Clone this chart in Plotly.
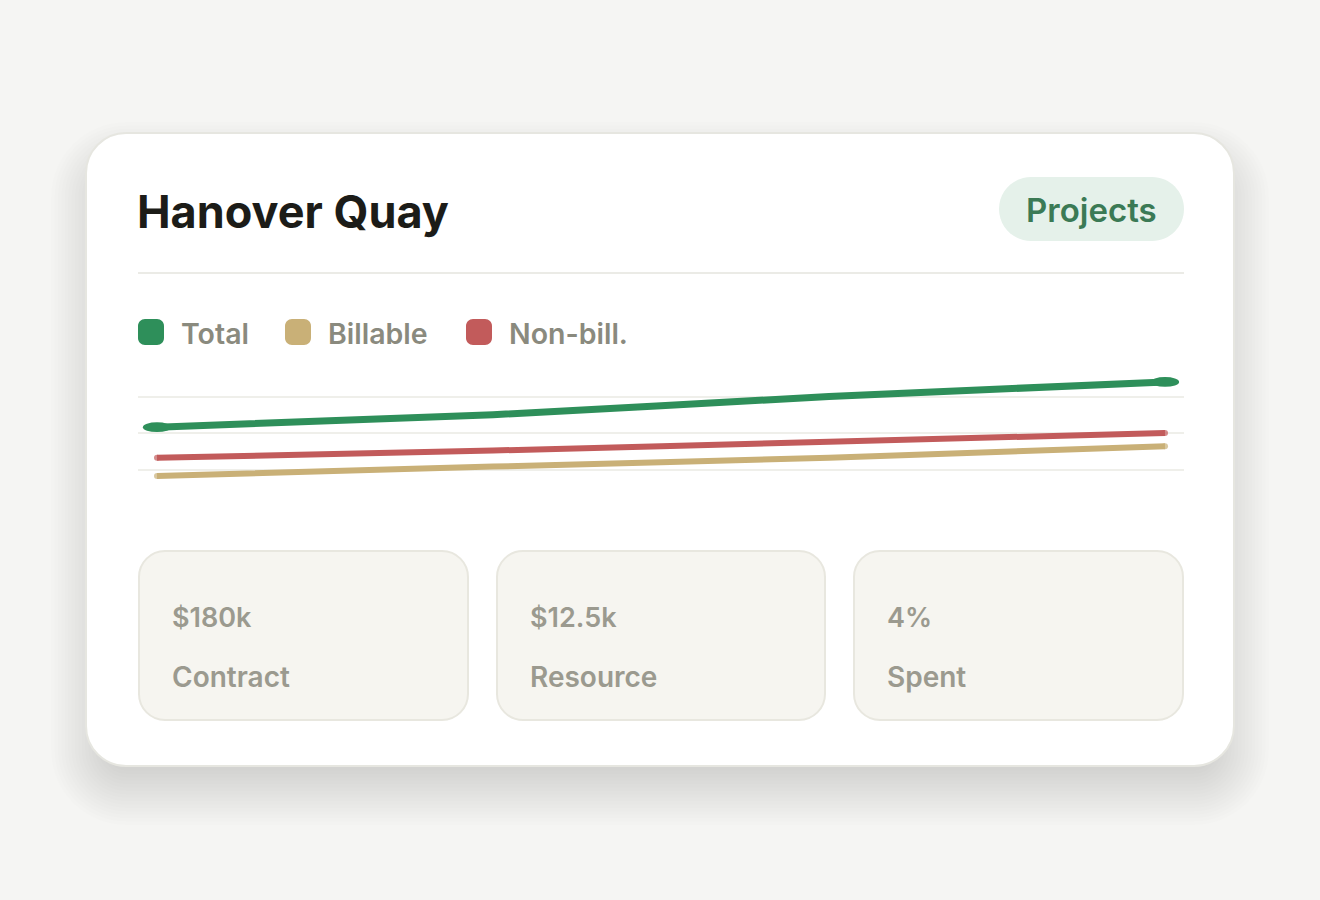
import plotly.graph_objects as go

# ---- data ----
periods = ["P1", "P2", "P3", "P4"]
total = [108, 125, 150, 170]
billable = [41, 54, 66, 82]
nonbill = [66, 76, 88, 100]
series_names = ["Total", "Billable", "Non-bill."]
series_colors = ["#2e8f5a", "#c9b077", "#c25b5b"]
grid_vals = [50, 100, 150]
stat_values = ["$180k", "$12.5k", "4%"]
stat_labels = ["Contract", "Resource", "Spent"]
title_text = "Hanover Quay"
badge_text = "Projects"

W, H = 1320, 900
FONT = "Inter"


def px(x):
    return x / W


def py(y):
    return 1 - y / H


def rr_path(x0, y0, x1, y1, r):
    k = 0.5523 * r
    P = lambda x, y: f"{px(x):.6f},{py(y):.6f}"
    return (
        f"M{P(x0 + r, y0)} L{P(x1 - r, y0)} "
        f"C{P(x1 - r + k, y0)} {P(x1, y0 + r - k)} {P(x1, y0 + r)} "
        f"L{P(x1, y1 - r)} "
        f"C{P(x1, y1 - r + k)} {P(x1 - r + k, y1)} {P(x1 - r, y1)} "
        f"L{P(x0 + r, y1)} "
        f"C{P(x0 + r - k, y1)} {P(x0, y1 - r + k)} {P(x0, y1 - r)} "
        f"L{P(x0, y0 + r)} "
        f"C{P(x0, y0 + r - k)} {P(x0 + r - k, y0)} {P(x0 + r, y0)} Z"
    )


shapes = []
annotations = []

# soft shadow: stacked translucent layers approximating a blur
CX0, CY0, CX1, CY1 = 86, 133, 1234, 766
n_layers = 26
for i in range(n_layers):
    e = -50 + i * (85 / (n_layers - 1))
    shapes.append(dict(type="path", xref="paper", yref="paper", layer="below",
                       path=rr_path(CX0 - e, CY0 + 24 - e, CX1 + e, CY1 + 24 + e, max(40 + e, 6)),
                       fillcolor="rgba(60,60,50,0.0065)", line=dict(width=0)))
# card
shapes.append(dict(type="path", xref="paper", yref="paper", layer="below",
                   path=rr_path(CX0, CY0, CX1, CY1, 40),
                   fillcolor="#ffffff", line=dict(color="#e6e6e0", width=2)))
# separator
shapes.append(dict(type="line", xref="paper", yref="paper", layer="below",
                   x0=px(138), x1=px(1184), y0=py(273), y1=py(273),
                   line=dict(color="#ebebe6", width=2)))
# badge
shapes.append(dict(type="path", xref="paper", yref="paper", layer="below",
                   path=rr_path(999, 177, 1184, 241, 32),
                   fillcolor="#e5f1ea", line=dict(width=0)))
annotations.append(dict(xref="paper", yref="paper", x=px(1091.5), y=py(210),
                        xanchor="center", yanchor="middle", showarrow=False,
                        text=badge_text,
                        font=dict(family=FONT, size=33, color="#3b7a55", weight=600)))
# title
annotations.append(dict(xref="paper", yref="paper", x=px(135), y=py(211),
                        xanchor="left", yanchor="middle", showarrow=False,
                        text=title_text,
                        font=dict(family=FONT, size=45, color="#1c1c18", weight=700)))

# legend
leg_x = [138, 285, 466]
for name, col, lx in zip(series_names, series_colors, leg_x):
    shapes.append(dict(type="path", xref="paper", yref="paper", layer="below",
                       path=rr_path(lx, 319, lx + 26, 345, 7),
                       fillcolor=col, line=dict(width=0)))
    annotations.append(dict(xref="paper", yref="paper", x=px(lx + 41), y=py(333),
                            xanchor="left", yanchor="middle", showarrow=False,
                            text=name,
                            font=dict(family=FONT, size=28.5, color="#8a8a7e", weight=600)))

# stat boxes
box_x = [(139, 468), (497, 825), (854, 1183)]
for (bx0, bx1), v, lab in zip(box_x, stat_values, stat_labels):
    shapes.append(dict(type="path", xref="paper", yref="paper", layer="below",
                       path=rr_path(bx0, 551, bx1, 720, 26),
                       fillcolor="#f6f5f0", line=dict(color="#e8e7df", width=2)))
    annotations.append(dict(xref="paper", yref="paper", x=px(bx0 + 31), y=py(617),
                            xanchor="left", yanchor="middle", showarrow=False,
                            text=v,
                            font=dict(family=FONT, size=27, color="#9b9a8f", weight=600)))
    annotations.append(dict(xref="paper", yref="paper", x=px(bx0 + 31), y=py(677),
                            xanchor="left", yanchor="middle", showarrow=False,
                            text=lab,
                            font=dict(family=FONT, size=28, color="#9b9a8f", weight=600)))

fig = go.Figure()

# lines (draw billable, non-bill, total)
order = [(billable, series_colors[1], 6, series_names[1]),
         (nonbill, series_colors[2], 6, series_names[2]),
         (total, series_colors[0], 7, series_names[0])]
for vals, col, w, name in order:
    n = len(vals)
    cap = 0 if name == "Total" else w
    fig.add_trace(go.Scatter(
        x=periods, y=vals, mode="lines+markers", name=name,
        line=dict(color=col, width=w, shape="spline", smoothing=0.5),
        marker=dict(size=[cap] + [0] * (n - 2) + [cap], color=col, line=dict(width=0)),
        hoverinfo="skip", showlegend=False))

# end blobs of total line
for idx in (0, len(total) - 1):
    shapes.append(dict(type="circle", xref="x", yref="y", layer="above",
                       x0=idx - 0.042, x1=idx + 0.042,
                       y0=total[idx] - 6.8, y1=total[idx] + 6.8,
                       fillcolor=series_colors[0], line=dict(width=0)))

fig.update_layout(
    width=W, height=H,
    margin=dict(l=0, r=0, t=0, b=0),
    paper_bgcolor="#f5f5f3",
    plot_bgcolor="rgba(0,0,0,0)",
    shapes=shapes,
    annotations=annotations,
    xaxis=dict(domain=[px(138), px(1184)], range=[-0.0565, 3.0565],
               showgrid=False, showticklabels=False, zeroline=False,
               showline=False, ticks=""),
    yaxis=dict(domain=[py(506), py(360)], range=[0, 200],
               tickvals=grid_vals, showticklabels=False, showgrid=True,
               gridcolor="#efefea", gridwidth=1.5, zeroline=False,
               showline=False, ticks=""),
    showlegend=False,
)

fig.write_html("out.html", config={"displayModeBar": False},
               post_script="document.body.style.margin='0px';document.body.style.background='#f5f5f3';")
